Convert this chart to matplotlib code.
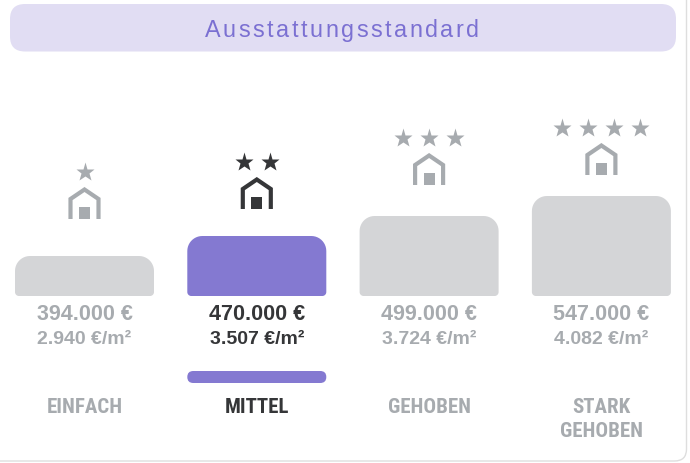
import numpy as np
import matplotlib
matplotlib.use("Agg")
import matplotlib.pyplot as plt
from matplotlib import font_manager
from matplotlib.patches import Polygon, Rectangle, FancyBboxPatch

title = "Ausstattungsstandard"
categories = ["EINFACH", "MITTEL", "GEHOBEN", "STARK\nGEHOBEN"]
prices = [394000, 470000, 499000, 547000]
price_per_sqm = [2940, 3507, 3724, 4082]
stars = [1, 2, 3, 4]
active = 1  # MITTEL is highlighted

GREY_BAR = "#d4d5d7"
PURPLE = "#8479d1"
GREY_TXT = "#a7abaf"
DARK = "#353638"
PILL = "#e1ddf3"
PILL_TXT = "#7b70d2"


def has_font(name):
    try:
        font_manager.findfont(font_manager.FontProperties(family=name), fallback_to_default=False)
        return True
    except ValueError:
        return False


FONT = "Liberation Sans" if has_font("Liberation Sans") else "DejaVu Sans"

# narrow font for the category labels
LABEL_FONT = dict(family="Roboto", fontsize=13.5)
for fam in ["Roboto Condensed", "Liberation Sans Narrow", "Open Sans Condensed"]:
    if has_font(fam):
        LABEL_FONT = dict(family=fam, fontsize=15)
        break


def de_num(v):
    return f"{v:,}".replace(",", ".")


def bar_shape(x0, x1, ytop, ybot, rt, rb):
    pts = []
    corners = [((x0 + rt, ytop + rt), rt, 180, 270),
               ((x1 - rt, ytop + rt), rt, 270, 360),
               ((x1 - rb, ybot - rb), rb, 0, 90),
               ((x0 + rb, ybot - rb), rb, 90, 180)]
    for (cx, cy), r, a0, a1 in corners:
        th = np.radians(np.linspace(a0, a1, 12))
        pts += list(zip(cx + r * np.cos(th), cy + r * np.sin(th)))
    return np.array(pts)


fig = plt.figure(figsize=(6.9, 4.64), dpi=100)
ax = fig.add_axes([0, 0, 1, 1])
ax.set_xlim(0, 690)
ax.set_ylim(464, 0)
ax.axis("off")

# card border + header pill
ax.add_patch(FancyBboxPatch((-30, -30), 716.5, 492, boxstyle="round,pad=0,rounding_size=12",
                            fc="white", ec="#dedede", lw=1.0, zorder=0))
ax.add_patch(FancyBboxPatch((10, 5), 666, 47.5, boxstyle="round,pad=0,rounding_size=15",
                            fc=PILL, ec="none", zorder=1))

# title with letter spacing
renderer = fig.canvas.get_renderer()
tracking = 2.5
chars = []
for ch in title:
    t = ax.text(0, 36.7, ch, fontsize=16.8, family=FONT, color=PILL_TXT, va="baseline", ha="left", zorder=2)
    chars.append((t, t.get_window_extent(renderer).width))
total = sum(w for _, w in chars) + tracking * (len(chars) - 1)
x = 342 - total / 2
for t, w in chars:
    t.set_x(x)
    x += w + tracking

# bars: height grows with rank of price
ranks = np.argsort(np.argsort(prices))
bar_w = 139
base_y = 297
centers = 84.5 + 172.3 * np.arange(len(categories))
icon_lift = [37, 27, 31, 21]

for i, cat in enumerate(categories):
    cx = centers[i]
    h = 40 + 20 * ranks[i]
    top = base_y - h
    on = i == active
    fc = PURPLE if on else GREY_BAR
    tc = DARK if on else GREY_TXT
    ax.add_patch(Polygon(bar_shape(cx - bar_w / 2, cx + bar_w / 2, top, base_y, 15, 4),
                         closed=True, fc=fc, ec="none", zorder=2))

    # house icon (open at the bottom) with a door
    yb = top - icon_lift[i]
    ax.plot([cx - 14, cx - 14, cx, cx + 14, cx + 14], [yb, yb - 20, yb - 29.5, yb - 20, yb],
            color=tc, lw=3.0, solid_joinstyle="miter", solid_capstyle="butt", zorder=3)
    ax.add_patch(Rectangle((cx - 5.5, yb - 12.5), 11, 12.5, fc=tc, ec="none", zorder=3))

    # stars
    n = stars[i]
    sx = cx + 26 * (np.arange(n) - (n - 1) / 2)
    ax.plot(sx, np.full(n, yb - 32 - 15.5), ls="none", marker="*", ms=14.2,
            mfc=tc, mec="none", zorder=3)

    ax.text(cx, 320, de_num(prices[i]) + " €", ha="center", va="baseline",
            fontsize=15.5, fontweight="bold", family=FONT, color=tc)
    ax.text(cx, 344, de_num(price_per_sqm[i]) + " €/m²", ha="center", va="baseline",
            fontsize=14, fontweight="bold", family=FONT, color=tc)
    for k, line in enumerate(cat.split("\n")):
        ax.text(cx, 413.3 + 24 * k, line, ha="center", va="baseline",
                fontweight="bold", color=tc, **LABEL_FONT)

# indicator under the highlighted column
ax.add_patch(FancyBboxPatch((centers[active] - bar_w / 2, 372), bar_w, 12,
                            boxstyle="round,pad=0,rounding_size=6", fc=PURPLE, ec="none", zorder=2))

fig.savefig("out.png", dpi=100)
